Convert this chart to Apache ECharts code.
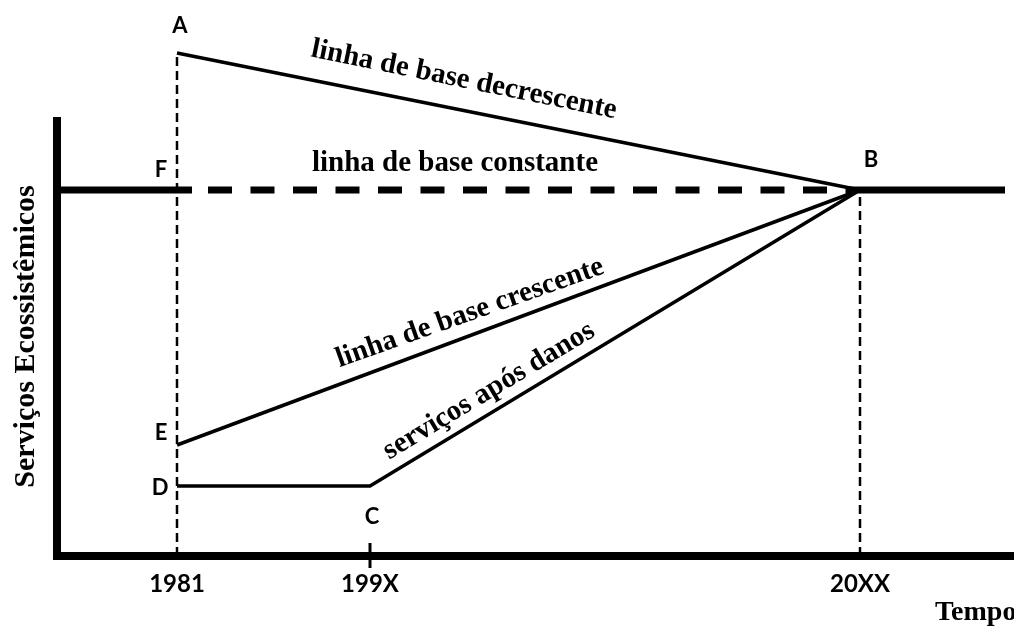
<!DOCTYPE html>
<html><head><meta charset="utf-8">
<script src="https://cdn.jsdelivr.net/npm/echarts@6/dist/echarts.min.js"></script>
<style>html,body{margin:0;padding:0;background:#fff}#c{width:1014px;height:626px}</style>
</head><body><div id="c"></div>
<script>
// Time axis: units counted from 1981
const tickLabels = ['1981', '199X', '20XX'];
const tickTimes = [0, 19.3, 68.3];
const tickMarkTime = 19.3;

// Ecosystem service levels (arbitrary units)
const decrescente = [[0, 50.3], [68.3, 36.6]];
const constanteLeft = [[-12, 36.6], [1.5, 36.6]];
const constanteMid = [[3.1, 36.6], [68.3, 36.6]];
const constanteRight = [[68.3, 36.6], [82.8, 36.6]];
const crescente = [[0, 11.1], [68.3, 36.6]];
const aposDanos = [[0, 7.0], [19.3, 7.0], [68.3, 36.6]];
const guide1981 = [[0, 0], [0, 50.3]];
const guide20XX = [[68.3, 0], [68.3, 36.6]];
const tickMark = [[tickMarkTime, 1.3], [tickMarkTime, -1.2]];

// Point letters and their anchors (data coordinates)
const pointNames = ['A', 'F', 'B', 'E', 'D', 'C'];
const pointAnchors = [[0.3, 53.0], [-1.6, 38.6], [69.4, 39.6], [-1.6, 12.3], [-1.7, 6.8], [19.5, 3.9]];

// Line captions and anchors (data coordinates)
const lineNames = ['linha de base decrescente', 'linha de base constante', 'linha de base crescente', 'serviços após danos'];
const lineAnchors = [[28.7, 47.6], [27.8, 39.2], [29.3, 24.3], [31.2, 16.5]];
const lineAngles = [-11.5, 0, 19.5, 31];

const SERIF = 'Liberation Serif';
const SANS = 'Lato';

function seg(data, width, type) {
  return {
    type: 'line', data: data, symbol: 'none', clip: false, silent: true,
    lineStyle: { color: '#000', width: width, type: type || 'solid', join: 'miter', cap: 'butt' }
  };
}

function labelSeries(anchors, names, angles, font, size) {
  return {
    type: 'scatter', silent: true, clip: false, symbolSize: 0, z: 5,
    itemStyle: { color: '#000', opacity: 1 },
    data: anchors.map(function (p, i) {
      return { value: p, label: { formatter: names[i], rotate: angles ? angles[i] : 0 } };
    }),
    label: { show: true, position: 'inside', fontFamily: font, fontWeight: 'bold', fontSize: size, color: '#000', opacity: 1, textBorderWidth: 0 }
  };
}

const chart = echarts.init(document.getElementById('c'), null, { renderer: 'canvas' });
chart.setOption({
  animation: false,
  backgroundColor: '#fff',
  grid: { left: 57, right: 0, top: 117, bottom: 70, containLabel: false, outerBoundsMode: 'none' },
  xAxis: {
    type: 'value', min: -12, max: 83.7,
    splitLine: { show: false },
    axisLine: { show: true, onZero: false, lineStyle: { color: '#000', width: 8, cap: 'square' } },
    axisTick: { show: false },
    axisLabel: {
      show: true, customValues: tickTimes,
      formatter: function (v) { const i = tickTimes.indexOf(v); return i >= 0 ? tickLabels[i] : ''; },
      fontFamily: SANS, fontWeight: 'bold', fontSize: 24, color: '#000', margin: 16
    },
    name: 'Tempo', nameLocation: 'end', nameGap: -79,
    nameTextStyle: { fontFamily: SERIF, fontWeight: 'bold', fontSize: 28, color: '#000', align: 'left', verticalAlign: 'top', padding: [43, 0, 0, 0] }
  },
  yAxis: {
    type: 'value', min: 0, max: 43.9,
    splitLine: { show: false },
    axisLine: { show: true, onZero: false, lineStyle: { color: '#000', width: 8, cap: 'butt' } },
    axisTick: { show: false },
    axisLabel: { show: false },
    name: 'Serviços Ecossistêmicos', nameLocation: 'middle', nameRotate: 90, nameGap: 16,
    nameTextStyle: { fontFamily: SERIF, fontWeight: 'bold', fontSize: 30, color: '#000' }
  },
  series: [
    seg(guide1981, 2.5, [9, 5]),
    seg(guide20XX, 2.5, [9, 5]),
    seg(decrescente, 3.5),
    seg(constanteLeft, 7),
    seg(constanteMid, 7, [24, 18.5]),
    seg(constanteRight, 7),
    seg(crescente, 3.5),
    seg(aposDanos, 3.5),
    seg(tickMark, 3),
    labelSeries(pointAnchors, pointNames, null, SANS, 22),
    labelSeries(lineAnchors, lineNames, lineAngles, SERIF, 29)
  ]
});
</script>
</body></html>
